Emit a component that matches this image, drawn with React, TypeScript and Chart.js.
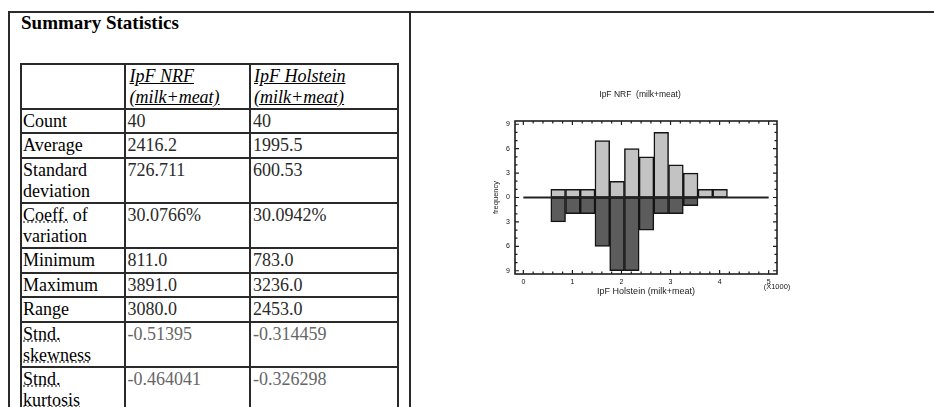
import React, { useEffect, useRef } from "react";
import { Chart, registerables } from "chart.js";

Chart.register(...registerables);

// ---------- data ----------
const binCenters = [0.71, 1.01, 1.31, 1.61, 1.91, 2.21, 2.51, 2.81, 3.11, 3.41, 3.71, 4.01];
const nrfCounts = [1, 1, 1, 7, 2, 6, 5, 8, 4, 3, 1, 1];
const holsteinCounts = [3, 2, 2, 6, 9, 9, 4, 2, 2, 1];
const zeroLineX = [0, 5];
const xTickValues = [0, 1, 2, 3, 4, 5];
const xMinorTicks = [0, 0.2, 0.4, 0.6, 0.8, 1, 1.2, 1.4, 1.6, 1.8, 2, 2.2, 2.4, 2.6, 2.8, 3, 3.2, 3.4, 3.6, 3.8, 4, 4.2, 4.4, 4.6, 4.8, 5];
const yTickValues = [-9, -6, -3, 0, 3, 6, 9];
const yMinorTicks = [-9, -8, -7, -6, -5, -4, -3, -2, -1, 0, 1, 2, 3, 4, 5, 6, 7, 8, 9];
const chartTitle = "IpF NRF  (milk+meat)";
const xAxisTitle = "IpF Holstein (milk+meat)";
const yAxisTitle = "frequency";
const xMultiplier = "(X1000)";

const tableTitle = "Summary Statistics";
const headerNrf = ["IpF NRF", "(milk+meat)"];
const headerHolstein = ["IpF Holstein", "(milk+meat)"];
const statLabels = [
  "Count",
  "Average",
  "Standard\ndeviation",
  "Coeff. of\nvariation",
  "Minimum",
  "Maximum",
  "Range",
  "Stnd.\nskewness",
  "Stnd.\nkurtosis",
];
const nrfStats = ["40", "2416.2", "726.711", "30.0766%", "811.0", "3891.0", "3080.0", "-0.51395", "-0.464041"];
const holsteinStats = ["40", "1995.5", "600.53", "30.0942%", "783.0", "3236.0", "2453.0", "-0.314459", "-0.326298"];
const spellWords = ["Coeff.", "Stnd.", "skewness", "kurtosis"];

// ---------- layout ----------
const colX = [21, 124.5, 250, 398];
const rowY = [64, 109, 133, 158, 203, 248, 273, 297, 322, 367, 412];
const LINE = "#2a2a2a";
const SANS = '"Liberation Sans", Arial, sans-serif';
const SERIF = '"Liberation Serif", "Times New Roman", serif';

const frameTicksPlugin = {
  id: "frameTicks",
  afterDatasetsDraw(chart: any) {
    const { ctx, chartArea, scales } = chart;
    const { left, right, top, bottom } = chartArea;
    const x = scales.x;
    const y = scales.y;
    ctx.save();
    ctx.strokeStyle = "#1e1e1e";
    ctx.lineWidth = 1.6;
    ctx.strokeRect(left, top, right - left, bottom - top);
    ctx.lineWidth = 1.2;
    ctx.beginPath();
    xMinorTicks.forEach((v) => {
      const px = x.getPixelForValue(v);
      const len = xTickValues.includes(v) ? 4 : 2.5;
      ctx.moveTo(px, bottom);
      ctx.lineTo(px, bottom - len);
      ctx.moveTo(px, top);
      ctx.lineTo(px, top + len);
    });
    yMinorTicks.forEach((v) => {
      const py = y.getPixelForValue(v);
      const len = yTickValues.includes(v) ? 4 : 2.5;
      ctx.moveTo(left, py);
      ctx.lineTo(left + len, py);
      ctx.moveTo(right, py);
      ctx.lineTo(right - len, py);
    });
    ctx.stroke();
    ctx.fillStyle = "#1a1a1a";
    ctx.font = `8.5px ${SANS}`;
    ctx.textAlign = "center";
    ctx.textBaseline = "middle";
    ctx.fillText(chartTitle, (left + right) / 2 - 6, top - 26);
    ctx.font = `7.5px ${SANS}`;
    ctx.fillText(xMultiplier, right, bottom + 13);
    ctx.restore();
  },
};

function Histogram() {
  const ref = useRef<HTMLCanvasElement>(null);
  useEffect(() => {
    const canvas = ref.current;
    if (!canvas) return;
    const chart = new Chart(canvas, {
      type: "bar",
      data: {
        datasets: [
          {
            type: "line",
            data: zeroLineX.map((v) => ({ x: v, y: 0 })),
            borderColor: "#222",
            borderWidth: 2,
            pointRadius: 0,
            order: 0,
          } as any,
          {
            type: "bar",
            data: nrfCounts.map((c, i) => ({ x: binCenters[i], y: c })),
            backgroundColor: "#c3c3c3",
            borderColor: "#141414",
            borderWidth: 1.5,
            borderSkipped: false,
            grouped: false,
            barPercentage: 1,
            categoryPercentage: 1,
            order: 1,
          } as any,
          {
            type: "bar",
            data: holsteinCounts.map((c, i) => ({ x: binCenters[i], y: -c })),
            backgroundColor: "#5c5c5c",
            borderColor: "#141414",
            borderWidth: 1.5,
            borderSkipped: false,
            grouped: false,
            barPercentage: 1,
            categoryPercentage: 1,
            order: 1,
          } as any,
        ],
      },
      options: {
        animation: false,
        responsive: false,
        events: [],
        layout: { padding: { left: 0, right: 33, top: 41, bottom: 0 } },
        plugins: {
          legend: { display: false },
          title: { display: false },
          tooltip: { enabled: false },
        },
        scales: {
          x: {
            type: "linear",
            min: -0.17,
            max: 5.17,
            offset: false,
            afterBuildTicks: (s: any) => {
              s.ticks = xTickValues.map((v) => ({ value: v }));
            },
            afterFit: (s: any) => {
              s.height = 36;
            },
            grid: { display: false, drawTicks: false },
            border: { display: false },
            ticks: {
              font: { size: 7, family: SANS },
              color: "#111",
              padding: 4,
              maxRotation: 0,
              autoSkip: false,
            },
            title: {
              display: true,
              text: xAxisTitle,
              font: { size: 9, family: SANS },
              color: "#1a1a1a",
              padding: { top: 0, bottom: 12.8 },
            },
          },
          y: {
            type: "linear",
            min: -9.4,
            max: 9.4,
            afterBuildTicks: (s: any) => {
              s.ticks = yTickValues.map((v) => ({ value: v }));
            },
            afterFit: (s: any) => {
              s.width = 45;
            },
            grid: { display: false, drawTicks: false },
            border: { display: false },
            ticks: {
              font: { size: 7, family: SANS },
              color: "#111",
              padding: 5,
              autoSkip: false,
              callback: (v: any) => String(Math.abs(Number(v))),
            },
            title: {
              display: true,
              text: yAxisTitle,
              font: { size: 7.5, family: SANS },
              color: "#1a1a1a",
              padding: { top: 21, bottom: 0 },
            },
          },
        },
      } as any,
      plugins: [frameTicksPlugin],
    });
    return () => chart.destroy();
  }, []);
  return (
    <canvas
      ref={ref}
      width={340}
      height={230}
      style={{ position: "absolute", left: 470, top: 80, width: 340, height: 230, display: "block" }}
    />
  );
}

function LabelText({ text }: { text: string }) {
  const lines = text.split("\n");
  return (
    <>
      {lines.map((line, li) => (
        <div key={li}>
          {line.split(" ").map((w, wi) => (
            <React.Fragment key={wi}>
              {wi > 0 ? " " : ""}
              {spellWords.includes(w) ? (
                <span
                  style={{
                    textDecorationLine: "underline",
                    textDecorationStyle: "dotted",
                    textDecorationColor: "#777",
                  }}
                >
                  {w}
                </span>
              ) : (
                w
              )}
            </React.Fragment>
          ))}
        </div>
      ))}
    </>
  );
}

export default function App() {
  const cellText = (left: number, top: number, width: number, content: React.ReactNode, extra: any = {}) => (
    <div
      style={{
        position: "absolute",
        left,
        top,
        width,
        fontSize: 18,
        lineHeight: "21px",
        whiteSpace: "nowrap",
        color: "#000",
        ...extra,
      }}
    >
      {content}
    </div>
  );

  return (
    <div
      style={{
        position: "absolute",
        left: 0,
        top: 0,
        width: 934,
        height: 407,
        overflow: "hidden",
        background: "#fff",
        fontFamily: SERIF,
      }}
    >
      {/* outer table lines */}
      <div style={{ position: "absolute", left: 8, top: 11, width: 940, height: 2, background: LINE }} />
      <div style={{ position: "absolute", left: 8, top: 11, width: 2, height: 400, background: LINE }} />
      <div style={{ position: "absolute", left: 409, top: 11, width: 2, height: 400, background: LINE }} />

      <div
        style={{
          position: "absolute",
          left: 21,
          top: 12,
          fontSize: 19,
          lineHeight: "22px",
          fontWeight: "bold",
          whiteSpace: "nowrap",
          color: "#000",
        }}
      >
        {tableTitle}
      </div>

      {/* inner table grid */}
      {colX.map((x, i) => (
        <div
          key={"c" + i}
          style={{ position: "absolute", left: x - 1, top: rowY[0] - 1, width: 2, height: 360, background: LINE }}
        />
      ))}
      {rowY.map((y, i) => (
        <div
          key={"r" + i}
          style={{ position: "absolute", left: colX[0] - 1, top: y - 1, width: colX[3] - colX[0] + 2, height: 2, background: LINE }}
        />
      ))}

      {/* header */}
      {cellText(
        colX[1] + 5,
        rowY[0] + 2,
        120,
        headerNrf.map((l, i) => (
          <div key={i} style={{ textDecoration: "underline", fontStyle: "italic" }}>
            {l}
          </div>
        ))
      )}
      {cellText(
        colX[2] + 4,
        rowY[0] + 2,
        140,
        headerHolstein.map((l, i) => (
          <div key={i} style={{ textDecoration: "underline", fontStyle: "italic" }}>
            {l}
          </div>
        ))
      )}

      {statLabels.map((lab, i) => (
        <React.Fragment key={i}>
          {cellText(colX[0] + 2, rowY[i + 1] + 2, 100, <LabelText text={lab} />)}
          {cellText(colX[1] + 3, rowY[i + 1] + 2, 120, nrfStats[i], { color: i >= 7 ? "#666" : "#2a2a2a" })}
          {cellText(colX[2] + 3, rowY[i + 1] + 2, 140, holsteinStats[i], { color: i >= 7 ? "#666" : "#2a2a2a" })}
        </React.Fragment>
      ))}

      <Histogram />
    </div>
  );
}
